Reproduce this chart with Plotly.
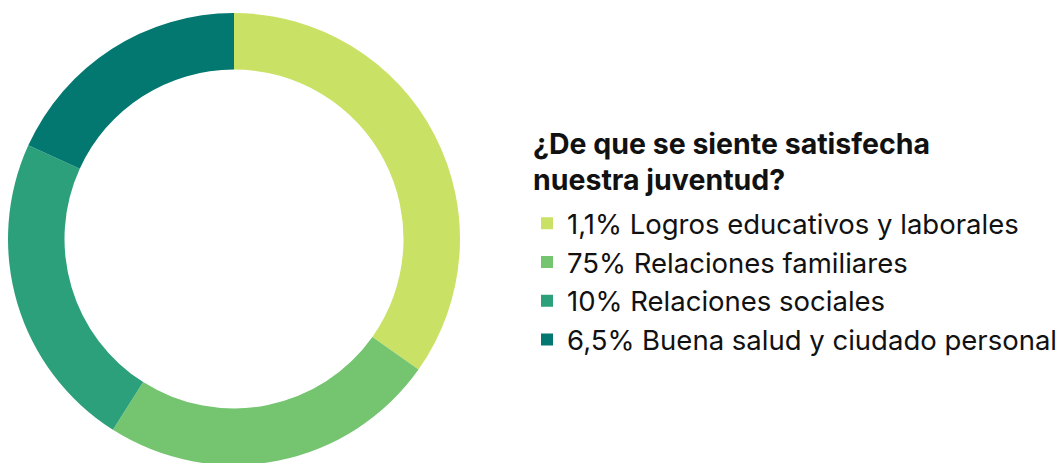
import plotly.graph_objects as go

labels = [
    "1,1% Logros educativos y laborales",
    "75% Relaciones familiares",
    "10% Relaciones sociales",
    "6,5% Buena salud y ciudado personal",
]
values = [34.8, 24.2, 22.8, 18.2]
colors = ["#C9E266", "#74C470", "#2CA07A", "#037870"]
title_lines = ["¿De que se siente satisfecha", "nuestra juventud?"]

W, H = 1064, 463
T, B = 5, 6
PH = H - T - B


def py(page_y):
    # page y (px, body margin 8) -> paper y
    return 1 - (page_y - 8 - T) / PH


fig = go.Figure(
    go.Pie(
        labels=labels,
        values=values,
        marker=dict(colors=colors, line=dict(width=0)),
        hole=0.75,
        sort=False,
        direction="clockwise",
        rotation=0,
        textinfo="none",
        hoverinfo="label",
        domain=dict(x=[0, 452 / W], y=[0, 1]),
    )
)

for line, ypage in zip(title_lines, [143.5, 179.5]):
    fig.add_annotation(
        text=f"<b>{line}</b>",
        xref="paper",
        yref="paper",
        x=523 / W,
        y=py(ypage),
        xanchor="left",
        yanchor="middle",
        showarrow=False,
        font=dict(size=28.5, color="#111111"),
    )

fig.update_layout(
    width=W,
    height=H,
    margin=dict(l=0, r=0, t=T, b=B),
    paper_bgcolor="white",
    plot_bgcolor="white",
    font=dict(family="Inter, Roboto, sans-serif", size=27.5, color="#111111"),
    legend=dict(
        x=519 / W,
        xanchor="left",
        y=py(281.3),
        yanchor="middle",
        font=dict(size=27.5, color="#111111"),
        bgcolor="rgba(0,0,0,0)",
    ),
    showlegend=True,
)

fig.write_html("out.html")
